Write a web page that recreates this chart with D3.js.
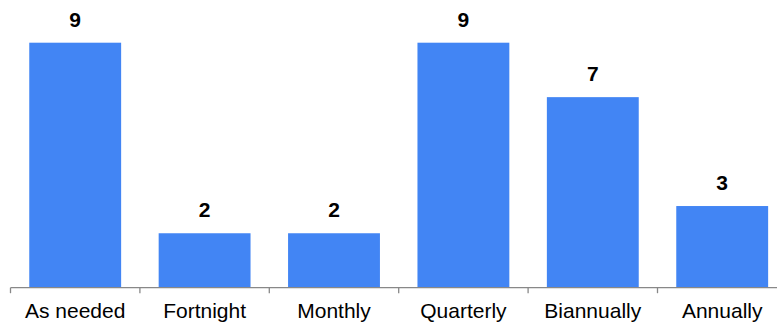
<!DOCTYPE html>
<html><head><meta charset="utf-8">
<script src="https://cdn.jsdelivr.net/npm/d3@7"></script>
<style>html,body{margin:0;padding:0;background:#fff;}svg{display:block;}</style>
</head><body><svg id="c" width="777" height="325"></svg>
<script>
const categories = ["As needed","Fortnight","Monthly","Quarterly","Biannually","Annually"];
const values = [9,2,2,9,7,3];
const yMax = 9;

const svg = d3.select("#c");
const baseY = 287.7;
const x = d3.scaleBand().domain(categories).range([10.5, 786.9]).paddingInner(0.29).paddingOuter(0.145);
const y = d3.scaleLinear().domain([0, yMax]).range([baseY, 42.7]);

svg.selectAll("rect.bar").data(categories).join("rect")
  .attr("class","bar")
  .attr("x", d => x(d)).attr("width", x.bandwidth())
  .attr("y", (d,i) => y(values[i])).attr("height", (d,i) => baseY - y(values[i]))
  .attr("fill", "#4285F4");

svg.selectAll("text.val").data(categories).join("text")
  .attr("class","val")
  .attr("x", d => x(d) + x.bandwidth()/2)
  .attr("y", (d,i) => y(values[i]) - 16)
  .attr("text-anchor","middle")
  .attr("font-family","Liberation Sans, Arial, sans-serif")
  .attr("font-weight","bold").attr("font-size","21px").attr("fill","#000")
  .text((d,i) => values[i]);

const xAxis = d3.axisBottom(x).tickSize(0).tickPadding(0);
const g = svg.append("g").attr("transform", `translate(0,${baseY})`).call(xAxis);
g.select(".domain").remove();
g.selectAll(".tick text").remove();
g.append("line").attr("x1",10.5).attr("x2",777).attr("y1",0).attr("y2",0).attr("stroke","#888").attr("stroke-width",1.3);
// boundary ticks between categories
const step = x.step();
const bounds = categories.map((d,i) => x.range()[0] + i*step);
g.selectAll("line.bt").data(bounds).join("line").attr("class","bt")
  .attr("x1", d=>d).attr("x2", d=>d).attr("y1",0).attr("y2",5.5)
  .attr("stroke","#888").attr("stroke-width",1.3);
g.selectAll("text.lab").data(categories).join("text").attr("class","lab")
  .attr("x", d => x(d) + x.bandwidth()/2).attr("y", 318.3 - baseY)
  .attr("text-anchor","middle")
  .attr("font-family","Liberation Sans, Arial, sans-serif")
  .attr("font-size","21px").attr("fill","#000")
  .text(d => d);
</script></body></html>
